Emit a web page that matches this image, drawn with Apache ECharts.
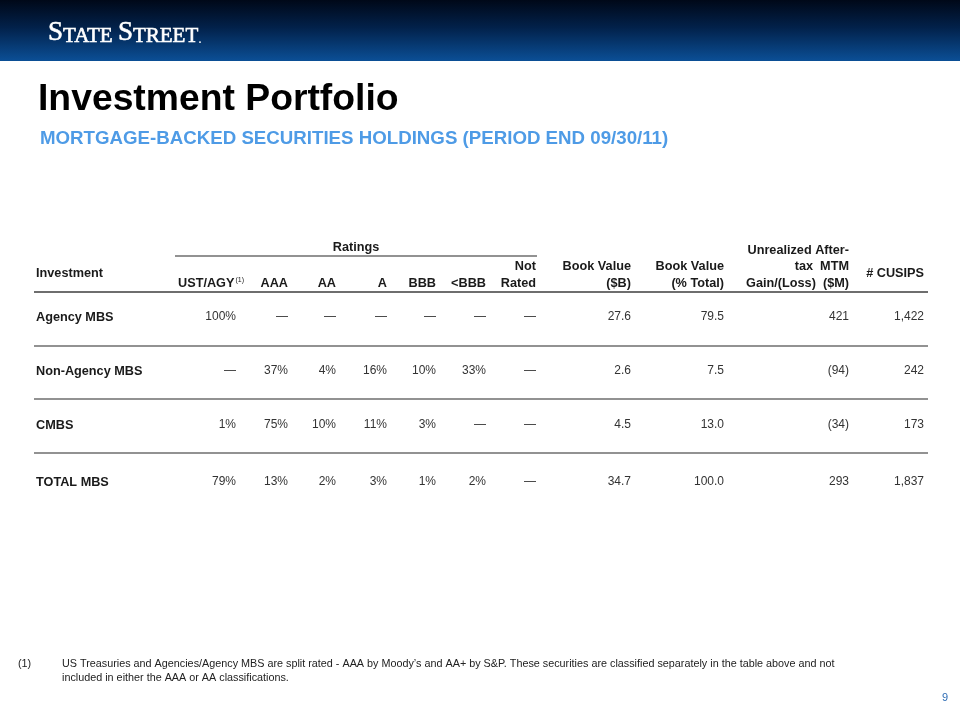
<!DOCTYPE html>
<html><head><meta charset="utf-8">
<script src="https://cdn.jsdelivr.net/npm/echarts@6/dist/echarts.min.js"></script>
<style>html,body{margin:0;padding:0;background:#fff}#c{width:960px;height:720px}</style>
</head><body><div id="c"></div>
<script>
// ---- data ----
const investments = ['Agency MBS', 'Non-Agency MBS', 'CMBS', 'TOTAL MBS'];
const ustAgy   = [100, null, 1, 79];
const aaa      = [null, 37, 75, 13];
const aa       = [null, 4, 10, 2];
const singleA  = [null, 16, 11, 3];
const bbb      = [null, 10, 3, 1];
const belowBbb = [null, 33, null, 2];
const notRated = [null, null, null, null];
const bookValueB   = [27.6, 2.6, 4.5, 34.7];
const bookValuePct = [79.5, 7.5, 13.0, 100.0];
const unrealizedM  = [421, -94, -34, 293];
const cusips       = [1422, 242, 173, 1837];
const headerLines = [
  ['Investment'],
  ['UST/AGY'],
  ['AAA'], ['AA'], ['A'], ['BBB'], ['<BBB'],
  ['Not', 'Rated'],
  ['Book Value', '($B)'],
  ['Book Value', '(% Total)'],
  ['Unrealized After-', 'tax  MTM', 'Gain/(Loss)  ($M)'],
  ['# CUSIPS']
];
const footnote = ['US Treasuries and Agencies/Agency MBS are split rated - AAA by Moody\u2019s and AA+ by S&P. These securities are classified separately in the table above and not',
                  'included in either the AAA or AA classifications.'];

// ---- layout ----
const colX = [36, 236, 288, 336, 387, 436, 486, 536, 631, 724, 849, 924];
const rowY = [317, 371, 425, 482];
const FONT = '"Liberation Sans", Arial, sans-serif';

const dash = '\u2014';
const pct = v => v == null ? dash : v + '%';
const num1 = v => v.toFixed(1);
const paren = v => v < 0 ? '(' + Math.abs(v) + ')' : String(v);
const comma = v => v.toLocaleString('en-US');

const cols = [
  investments.map(s => s),
  ustAgy.map(pct), aaa.map(pct), aa.map(pct), singleA.map(pct), bbb.map(pct), belowBbb.map(pct), notRated.map(pct),
  bookValueB.map(num1), bookValuePct.map(num1), unrealizedM.map(paren), cusips.map(comma)
];

const cells = [];
cols.forEach((arr, c) => arr.forEach((t, r) => {
  cells.push({ value: [colX[c], rowY[r]], text: t, bold: c === 0, align: c === 0 ? 'left' : 'right' });
}));
headerLines.forEach((lines, c) => {
  const n = lines.length;
  lines.forEach((t, i) => {
    const y = (c === 0 || c === 11) ? 273 : 283 - (n - 1 - i) * 16.5;
    cells.push({ value: [colX[c], y], text: t, bold: true, align: c === 0 ? 'left' : 'right', sup: c === 1 });
  });
});
cells.push({ value: [356, 247], text: 'Ratings', bold: true, align: 'center' });

const chart = echarts.init(document.getElementById('c'), null, { renderer: 'canvas' });

const lineStyle = { stroke: '#6e6e6e', lineWidth: 1.6 };
const serif = '"Liberation Serif", "DejaVu Serif", serif';
const graphics = [
  { type: 'rect', shape: { x: 0, y: 0, width: 960, height: 61 },
    style: { fill: new echarts.graphic.LinearGradient(0, 0, 0, 1, [
      { offset: 0, color: '#000818' }, { offset: 0.45, color: '#02214a' }, { offset: 1, color: '#0b4f96' }]) } },
  { type: 'text', x: 48, y: 33, style: {
      text: '{a|S}{b|TATE }{a|S}{b|TREET}{c|.}', verticalAlign: 'middle',
      rich: {
        a: { fontFamily: serif, fontSize: 27, fill: '#fff', stroke: '#fff', lineWidth: 0.6, verticalAlign: 'bottom' },
        b: { fontFamily: serif, fontSize: 21, fill: '#fff', stroke: '#fff', lineWidth: 0.6, verticalAlign: 'bottom' },
        c: { fontFamily: serif, fontSize: 14, fill: '#fff', verticalAlign: 'bottom' }
      } } },
  { type: 'text', x: 38, y: 100, style: { text: 'Investment Portfolio', font: 'bold 37.3px ' + FONT, fill: '#000', verticalAlign: 'middle' } },
  { type: 'text', x: 40, y: 139, style: { text: 'MORTGAGE-BACKED SECURITIES HOLDINGS (PERIOD END 09/30/11)', font: 'bold 18.7px ' + FONT, fill: '#4e9be6', verticalAlign: 'middle' } },
  { type: 'line', shape: { x1: 175, y1: 256, x2: 537, y2: 256 }, style: lineStyle },
  { type: 'line', shape: { x1: 34, y1: 292, x2: 928, y2: 292 }, style: { stroke: '#6e6e6e', lineWidth: 2 } },
  { type: 'line', shape: { x1: 34, y1: 346, x2: 928, y2: 346 }, style: lineStyle },
  { type: 'line', shape: { x1: 34, y1: 399, x2: 928, y2: 399 }, style: lineStyle },
  { type: 'line', shape: { x1: 34, y1: 453, x2: 928, y2: 453 }, style: lineStyle },
  { type: 'text', x: 18, y: 664, style: { text: '(1)', font: '10.8px ' + FONT, fill: '#222', verticalAlign: 'middle' } },
  { type: 'text', x: 62, y: 664, style: { text: footnote[0], font: '10.8px ' + FONT, fill: '#222', verticalAlign: 'middle' } },
  { type: 'text', x: 62, y: 678, style: { text: footnote[1], font: '10.8px ' + FONT, fill: '#222', verticalAlign: 'middle' } },
  { type: 'text', x: 948, y: 698, style: { text: '9', font: '11px ' + FONT, fill: '#2f6db5', align: 'right', verticalAlign: 'middle' } }
];

chart.setOption({
  animation: false,
  grid: { left: 0, right: 0, top: 0, bottom: 0 },
  xAxis: { type: 'value', min: 0, max: 960, show: false },
  yAxis: { type: 'value', min: 0, max: 720, inverse: true, show: false },
  graphic: graphics,
  series: [{
    type: 'custom',
    coordinateSystem: 'cartesian2d',
    data: cells,
    renderItem: function (params, api) {
      const cell = cells[params.dataIndex];
      const p = api.coord([api.value(0), api.value(1)]);
      if (cell.sup) {
        return { type: 'text', x: p[0] + 8, y: p[1], style: {
          text: '{m|' + cell.text + '}{s|(1)}', align: 'right', verticalAlign: 'middle',
          rich: { m: { font: 'bold 12.7px ' + FONT, fill: '#1a1a1a' }, s: { font: '7px ' + FONT, fill: '#1a1a1a', verticalAlign: 'top', padding: [0, 0, 6, 1] } } } };
      }
      return { type: 'text', x: p[0], y: p[1], style: {
        text: cell.text, align: cell.align, verticalAlign: 'middle',
        font: (cell.bold ? 'bold 12.7px ' : '12px ') + FONT, fill: cell.bold ? '#1a1a1a' : '#333' } };
    }
  }]
});
</script></body></html>
